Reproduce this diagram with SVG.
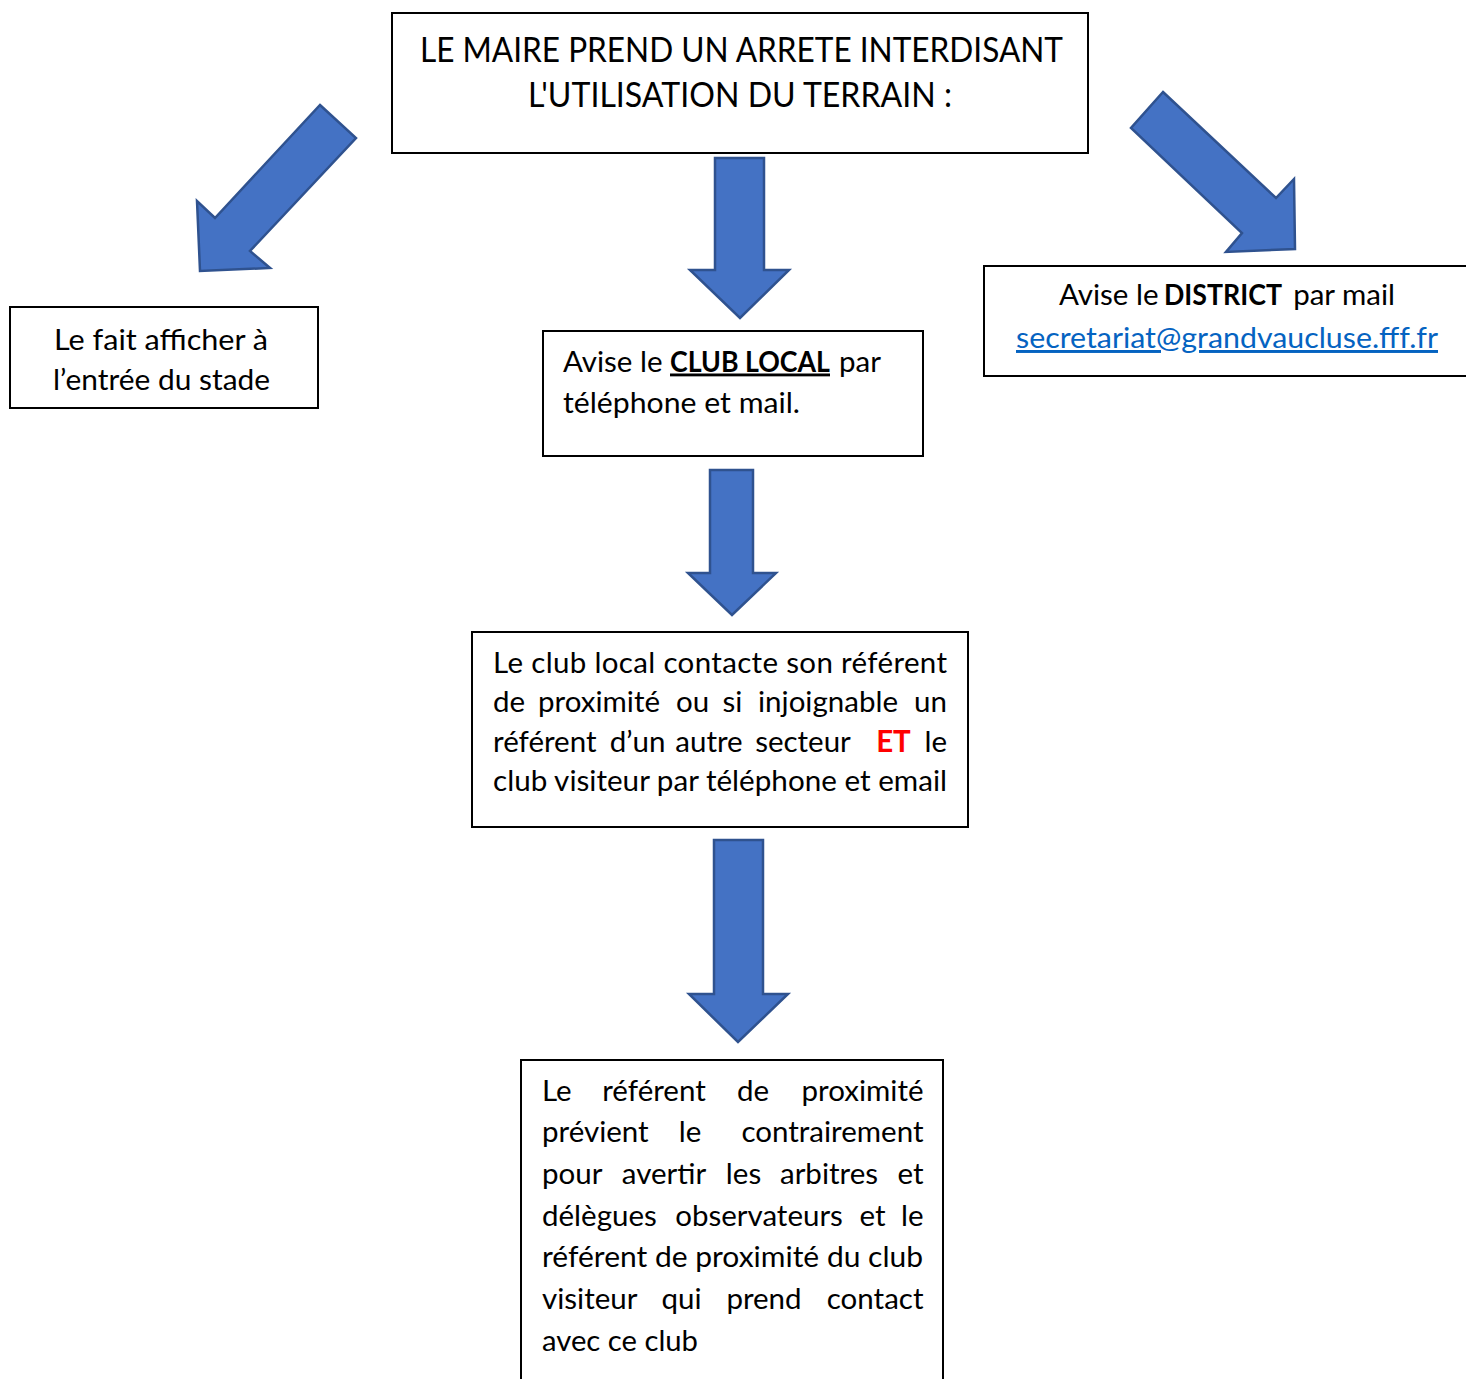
<svg xmlns="http://www.w3.org/2000/svg" width="1466" height="1379" viewBox="0 0 1466 1379">
  <style>
    .box { fill: #ffffff; stroke: #000000; stroke-width: 2; }
    .arrow { fill: #4472C4; stroke: #2F528F; stroke-width: 2.5; stroke-linejoin: miter; }
    text { font-family: Lato, "Open Sans", "Liberation Sans", sans-serif; fill: #000000; }
    .t { font-size: 29.5px; }
    .title { font-size: 34px; }
    .b { font-weight: bold; font-size: 28.5px; }
    .u { text-decoration: underline; }
    .red { fill: #FF0000; font-weight: bold; }
    .link { fill: #0563C1; text-decoration: underline; }
    .m { text-anchor: middle; }
    .e { text-anchor: end; }
  </style>
  <rect width="1466" height="1379" fill="#ffffff"/>

  <g id="connectors">
    <polygon class="arrow" points="320,105 356,138 250,251 270,268 200,271 197,201 215,218"/>
    <polygon class="arrow" points="715,158 764,158 764,270 789,270 740,318 690,270 715,270"/>
    <polygon class="arrow" points="1163,92 1276,198 1294,179 1295,249 1226,252 1242,233 1131,128"/>
    <polygon class="arrow" points="710,470 753,470 753,573 776,573 732,615 688,573 710,573"/>
    <polygon class="arrow" points="714,840 763,840 763,994 788,994 738,1042 689,994 714,994"/>
  </g>

  <g id="node-maire">
    <rect class="box" x="392" y="13" width="696" height="140"/>
    <text class="title" x="741.5" y="61.5" text-anchor="middle" textLength="643" lengthAdjust="spacingAndGlyphs">LE MAIRE PREND UN ARRETE INTERDISANT</text>
    <text class="title" x="740" y="107" text-anchor="middle" textLength="424" lengthAdjust="spacingAndGlyphs">L'UTILISATION DU TERRAIN :</text>
  </g>

  <g id="node-afficher">
    <rect class="box" x="10" y="307" width="308" height="101"/>
    <text class="t" x="161" y="349.5" text-anchor="middle" textLength="214" lengthAdjust="spacingAndGlyphs">Le fait afficher à</text>
    <text class="t" x="161.5" y="390" text-anchor="middle" textLength="217" lengthAdjust="spacingAndGlyphs">l’entrée du stade</text>
  </g>

  <g id="node-club-local">
    <rect class="box" x="543" y="331" width="380" height="125"/>
    <text class="t" y="371.5"><tspan x="563">Avise le</tspan><tspan x="670" class="b u" textLength="160" lengthAdjust="spacingAndGlyphs">CLUB LOCAL</tspan><tspan x="881" class="e">par</tspan></text>
    <text class="t" x="563" y="413" textLength="237" lengthAdjust="spacingAndGlyphs">téléphone et mail.</text>
  </g>

  <g id="node-district">
    <rect class="box" x="984" y="266" width="490" height="110"/>
    <text class="t" y="305"><tspan x="1059">Avise le</tspan><tspan x="1164" class="b" textLength="118" lengthAdjust="spacingAndGlyphs">DISTRICT</tspan><tspan x="1395" class="e">par mail</tspan></text>
    <text class="t link" x="1227" y="348" text-anchor="middle" textLength="422" lengthAdjust="spacingAndGlyphs">secretariat@grandvaucluse.fff.fr</text>
  </g>

  <g id="node-contacte">
    <rect class="box" x="472" y="632" width="496" height="195"/>
    <text class="t" x="493" y="672.5" textLength="454" lengthAdjust="spacing">Le club local contacte son référent</text>
    <text class="t" y="712"><tspan x="493">de</tspan><tspan class="m" x="599">proximité</tspan><tspan class="m" x="692.5">ou</tspan><tspan class="m" x="732.5">si</tspan><tspan class="m" x="828">injoignable</tspan><tspan class="e" x="947">un</tspan></text>
    <text class="t" y="751.5"><tspan x="493">référent</tspan><tspan class="m" x="637.5">d’un</tspan><tspan class="m" x="709">autre</tspan><tspan class="m" x="803">secteur</tspan><tspan class="red m" x="893.5">ET</tspan><tspan class="e" x="947">le</tspan></text>
    <text class="t" x="493" y="790.5" textLength="454" lengthAdjust="spacingAndGlyphs">club visiteur par téléphone et email</text>
  </g>

  <g id="node-referent">
    <rect class="box" x="521" y="1060" width="422" height="330"/>
    <text class="t" y="1100.5"><tspan x="542">Le</tspan><tspan class="m" x="654">référent</tspan><tspan class="m" x="753">de</tspan><tspan class="e" x="923.5">proximité</tspan></text>
    <text class="t" y="1142"><tspan x="542">prévient</tspan><tspan class="m" x="690">le</tspan><tspan class="e" x="923.5">contrairement</tspan></text>
    <text class="t" y="1183.5"><tspan x="542">pour</tspan><tspan class="m" x="664">avertir</tspan><tspan class="m" x="743.5">les</tspan><tspan class="m" x="829">arbitres</tspan><tspan class="e" x="923.5">et</tspan></text>
    <text class="t" y="1225.5"><tspan x="542">délègues</tspan><tspan class="m" x="759">observateurs</tspan><tspan class="m" x="872.5">et</tspan><tspan class="e" x="923.5">le</tspan></text>
    <text class="t" x="542" y="1267" textLength="381" lengthAdjust="spacingAndGlyphs">référent de proximité du club</text>
    <text class="t" y="1309"><tspan x="542">visiteur</tspan><tspan class="m" x="681.5">qui</tspan><tspan class="m" x="764">prend</tspan><tspan class="e" x="923.5">contact</tspan></text>
    <text class="t" x="542" y="1350.5" textLength="156" lengthAdjust="spacingAndGlyphs">avec ce club</text>
  </g>
</svg>
